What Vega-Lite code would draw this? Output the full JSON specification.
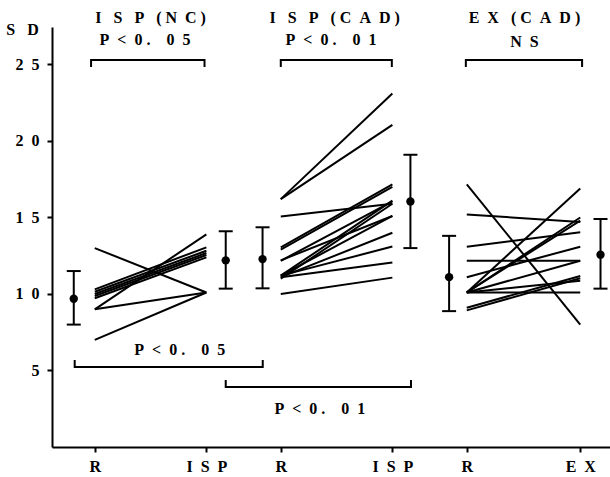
{
  "$schema": "https://vega.github.io/schema/vega-lite/v6.json",
  "width": 558,
  "height": 420,
  "autosize": {"type": "none"},
  "padding": {"left": 52, "top": 27, "right": 0, "bottom": 30},
  "config": {"view": {"stroke": null}, "font": "Liberation Serif"},
  "datasets": {
    "subjects": [
      {"id": "n1", "x": 0, "y": 13.0}, {"id": "n1", "x": 6, "y": 10.1},
      {"id": "n2", "x": 0, "y": 9.0}, {"id": "n2", "x": 6, "y": 10.1},
      {"id": "n3", "x": 0, "y": 7.0}, {"id": "n3", "x": 6, "y": 10.1},
      {"id": "n4", "x": 0, "y": 9.0}, {"id": "n4", "x": 6, "y": 13.9},
      {"id": "n5", "x": 0, "y": 10.3}, {"id": "n5", "x": 6, "y": 13.05},
      {"id": "n6", "x": 0, "y": 10.15}, {"id": "n6", "x": 6, "y": 12.83},
      {"id": "n7", "x": 0, "y": 10.0}, {"id": "n7", "x": 6, "y": 12.68},
      {"id": "n8", "x": 0, "y": 9.87}, {"id": "n8", "x": 6, "y": 12.55},
      {"id": "n9", "x": 0, "y": 9.72}, {"id": "n9", "x": 6, "y": 12.39},
      {"id": "c1", "x": 10, "y": 16.2}, {"id": "c1", "x": 16, "y": 23.1},
      {"id": "c2", "x": 10, "y": 16.2}, {"id": "c2", "x": 16, "y": 21.05},
      {"id": "c3", "x": 10, "y": 15.07}, {"id": "c3", "x": 16, "y": 15.9},
      {"id": "c4", "x": 10, "y": 13.05}, {"id": "c4", "x": 16, "y": 17.17},
      {"id": "c5", "x": 10, "y": 12.9}, {"id": "c5", "x": 16, "y": 17.0},
      {"id": "c6", "x": 10, "y": 12.17}, {"id": "c6", "x": 16, "y": 16.05},
      {"id": "c7", "x": 10, "y": 11.2}, {"id": "c7", "x": 16, "y": 16.1},
      {"id": "c8", "x": 10, "y": 11.2}, {"id": "c8", "x": 16, "y": 15.1},
      {"id": "c9", "x": 10, "y": 11.1}, {"id": "c9", "x": 16, "y": 14.0},
      {"id": "c10", "x": 10, "y": 11.2}, {"id": "c10", "x": 16, "y": 13.1},
      {"id": "c11", "x": 10, "y": 11.1}, {"id": "c11", "x": 16, "y": 12.06},
      {"id": "c12", "x": 10, "y": 10.0}, {"id": "c12", "x": 16, "y": 11.07},
      {"id": "c13", "x": 10, "y": 11.0}, {"id": "c13", "x": 16, "y": 15.9},
      {"id": "c14", "x": 10, "y": 12.2}, {"id": "c14", "x": 16, "y": 15.1},
      {"id": "e1", "x": 20, "y": 17.17}, {"id": "e1", "x": 26.1, "y": 8.0},
      {"id": "e2", "x": 20, "y": 15.2}, {"id": "e2", "x": 26.1, "y": 14.7},
      {"id": "e3", "x": 20, "y": 13.09}, {"id": "e3", "x": 26.1, "y": 14.03},
      {"id": "e4", "x": 20, "y": 12.17}, {"id": "e4", "x": 26.1, "y": 12.17},
      {"id": "e5", "x": 20, "y": 11.1}, {"id": "e5", "x": 26.1, "y": 13.09},
      {"id": "e6", "x": 20, "y": 10.1}, {"id": "e6", "x": 26.1, "y": 16.9},
      {"id": "e7", "x": 20, "y": 10.1}, {"id": "e7", "x": 26.1, "y": 15.0},
      {"id": "e8", "x": 20, "y": 10.1}, {"id": "e8", "x": 26.1, "y": 14.8},
      {"id": "e9", "x": 20, "y": 10.1}, {"id": "e9", "x": 26.1, "y": 12.17},
      {"id": "e10", "x": 20, "y": 10.1}, {"id": "e10", "x": 26.1, "y": 10.09},
      {"id": "e11", "x": 20, "y": 10.1}, {"id": "e11", "x": 26.1, "y": 10.86},
      {"id": "e12", "x": 20, "y": 9.1}, {"id": "e12", "x": 26.1, "y": 11.18},
      {"id": "e13", "x": 20, "y": 8.93}, {"id": "e13", "x": 26.1, "y": 11.03}
    ],
    "means": [
      {"x": -1.13, "y": 9.69, "lo": 8.0, "hi": 11.5},
      {"x": 7.04, "y": 12.2, "lo": 10.35, "hi": 14.1},
      {"x": 9.02, "y": 12.28, "lo": 10.37, "hi": 14.36},
      {"x": 16.97, "y": 16.05, "lo": 13.0, "hi": 19.1},
      {"x": 19.05, "y": 11.1, "lo": 8.88, "hi": 13.8},
      {"x": 27.19, "y": 12.57, "lo": 10.35, "hi": 14.9}
    ],
    "brackets": [
      {"b": "T1", "o": 1, "x": -0.2, "y": 24.84}, {"b": "T1", "o": 2, "x": -0.2, "y": 25.3},
      {"b": "T1", "o": 3, "x": 5.9, "y": 25.3}, {"b": "T1", "o": 4, "x": 5.9, "y": 24.84},
      {"b": "T2", "o": 1, "x": 10.0, "y": 24.84}, {"b": "T2", "o": 2, "x": 10.0, "y": 25.3},
      {"b": "T2", "o": 3, "x": 15.97, "y": 25.3}, {"b": "T2", "o": 4, "x": 15.97, "y": 24.84},
      {"b": "T3", "o": 1, "x": 19.95, "y": 24.84}, {"b": "T3", "o": 2, "x": 19.95, "y": 25.3},
      {"b": "T3", "o": 3, "x": 26.2, "y": 25.3}, {"b": "T3", "o": 4, "x": 26.2, "y": 24.84},
      {"b": "L1", "o": 1, "x": -1.08, "y": 5.69}, {"b": "L1", "o": 2, "x": -1.08, "y": 5.23},
      {"b": "L1", "o": 3, "x": 9.03, "y": 5.23}, {"b": "L1", "o": 4, "x": 9.03, "y": 5.69},
      {"b": "L2", "o": 1, "x": 7.04, "y": 4.38}, {"b": "L2", "o": 2, "x": 7.04, "y": 3.92},
      {"b": "L2", "o": 3, "x": 17.0, "y": 3.92}, {"b": "L2", "o": 4, "x": 17.0, "y": 4.38}
    ],
    "labels": [
      {"x": 3.0, "y": 28.07, "t": "I\u00a0\u00a0\u00a0S\u00a0\u00a0\u00a0P\u00a0\u00a0\u00a0(\u00a0N\u00a0\u00a0C\u00a0)"},
      {"x": 2.7, "y": 26.6, "t": "P\u00a0\u00a0<\u00a0\u00a00\u00a0.\u00a0\u00a0\u00a0\u00a00\u00a0\u00a05"},
      {"x": 12.9, "y": 28.07, "t": "I\u00a0\u00a0\u00a0S\u00a0\u00a0\u00a0P\u00a0\u00a0\u00a0(\u00a0C\u00a0\u00a0A\u00a0\u00a0D\u00a0)"},
      {"x": 12.7, "y": 26.6, "t": "P\u00a0\u00a0<\u00a0\u00a00\u00a0.\u00a0\u00a0\u00a0\u00a00\u00a0\u00a01"},
      {"x": 23.1, "y": 28.07, "t": "E\u00a0\u00a0X\u00a0\u00a0\u00a0(\u00a0C\u00a0\u00a0A\u00a0\u00a0D\u00a0)"},
      {"x": 23.1, "y": 26.45, "t": "N\u00a0\u00a0S"},
      {"x": 4.57, "y": 6.34, "t": "P\u00a0\u00a0<\u00a0\u00a00\u00a0.\u00a0\u00a0\u00a0\u00a00\u00a0\u00a05"},
      {"x": 12.1, "y": 2.48, "t": "P\u00a0\u00a0<\u00a0\u00a00\u00a0.\u00a0\u00a0\u00a0\u00a00\u00a0\u00a01"}
    ]
  },
  "layer": [
    {
      "data": {"name": "subjects"},
      "mark": {"type": "line", "color": "black", "strokeWidth": 2},
      "encoding": {
        "x": {
          "field": "x", "type": "quantitative",
          "scale": {"domain": [-2.3, 27.7], "nice": false, "zero": false},
          "axis": {
            "values": [0, 6, 10, 16, 20, 26.1],
            "labelExpr": "datum.value==0||datum.value==10||datum.value==20?'R':((datum.value==6||datum.value==16)?'I\u00a0\u00a0S\u00a0\u00a0P':'E\u00a0\u00a0X')",
            "title": null, "grid": false,
            "domainColor": "black", "domainWidth": 2,
            "tickColor": "black", "tickWidth": 2, "tickSize": 5,
            "labelFont": "Liberation Serif", "labelFontSize": 16, "labelFontWeight": "bold",
            "labelColor": "black", "labelPadding": 6, "labelFlush": false, "labelOverlap": false
          }
        },
        "y": {
          "field": "y", "type": "quantitative",
          "scale": {"domain": [0, 27.45], "nice": false, "zero": false},
          "axis": {
            "values": [5, 10, 15, 20, 25],
            "labelExpr": "datum.value>=10?(floor(datum.value/10)+'\u00a0\u00a0'+(datum.value%10)):(''+datum.value)",
            "title": "S\u00a0\u00a0\u00a0D", "titleAngle": 0, "titleX": -30, "titleY": 2,
            "titleAlign": "center", "titleBaseline": "middle",
            "titleFont": "Liberation Serif", "titleFontSize": 16, "titleFontWeight": "bold", "titleColor": "black",
            "grid": false,
            "domainColor": "black", "domainWidth": 2,
            "tickColor": "black", "tickWidth": 2, "tickSize": 5,
            "labelFont": "Liberation Serif", "labelFontSize": 16, "labelFontWeight": "bold",
            "labelColor": "black", "labelPadding": 8, "labelFlush": false, "labelOverlap": false
          }
        },
        "detail": {"field": "id"}
      }
    },
    {
      "data": {"name": "means"},
      "mark": {"type": "rule", "color": "black", "strokeWidth": 2},
      "encoding": {
        "x": {"field": "x", "type": "quantitative"},
        "y": {"field": "lo", "type": "quantitative"},
        "y2": {"field": "hi"}
      }
    },
    {
      "data": {"name": "means"},
      "mark": {"type": "tick", "orient": "horizontal", "color": "black", "size": 14, "thickness": 2, "opacity": 1},
      "encoding": {
        "x": {"field": "x", "type": "quantitative"},
        "y": {"field": "lo", "type": "quantitative"}
      }
    },
    {
      "data": {"name": "means"},
      "mark": {"type": "tick", "orient": "horizontal", "color": "black", "size": 14, "thickness": 2, "opacity": 1},
      "encoding": {
        "x": {"field": "x", "type": "quantitative"},
        "y": {"field": "hi", "type": "quantitative"}
      }
    },
    {
      "data": {"name": "means"},
      "mark": {"type": "point", "filled": true, "color": "black", "size": 70, "opacity": 1},
      "encoding": {
        "x": {"field": "x", "type": "quantitative"},
        "y": {"field": "y", "type": "quantitative"}
      }
    },
    {
      "data": {"name": "brackets"},
      "mark": {"type": "line", "color": "black", "strokeWidth": 2},
      "encoding": {
        "x": {"field": "x", "type": "quantitative"},
        "y": {"field": "y", "type": "quantitative"},
        "detail": {"field": "b"},
        "order": {"field": "o"}
      }
    },
    {
      "data": {"name": "labels"},
      "mark": {"type": "text", "font": "Liberation Serif", "fontSize": 16, "fontWeight": "bold", "color": "black", "align": "center", "baseline": "middle"},
      "encoding": {
        "x": {"field": "x", "type": "quantitative"},
        "y": {"field": "y", "type": "quantitative"},
        "text": {"field": "t"}
      }
    }
  ]
}
